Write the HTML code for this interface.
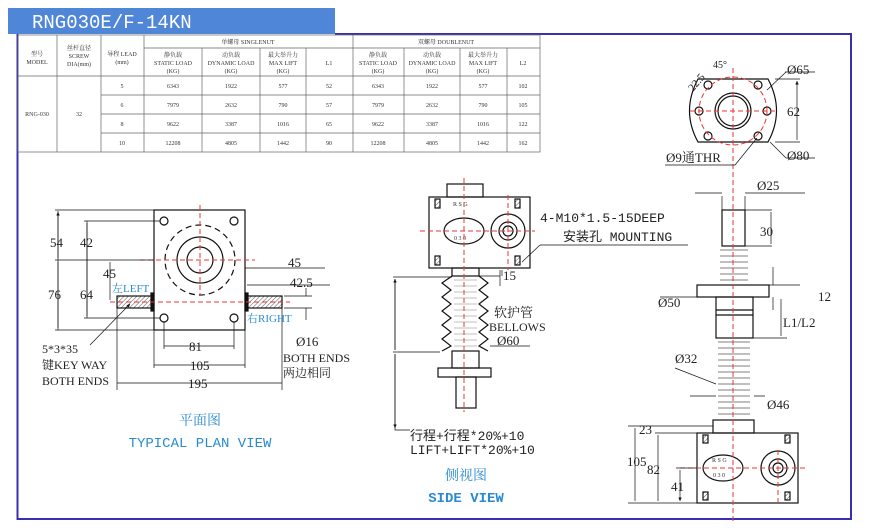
<!DOCTYPE html>
<html><head><meta charset="utf-8"><style>
body{margin:0;background:#fff}
svg{display:block;font-family:"Liberation Serif","Noto Serif CJK SC",serif}
.t{font-size:6px;fill:#333;text-anchor:middle}
.d{font-size:13px;fill:#222}
.b{fill:#2a8ad0}
</style></head><body>
<svg width="870" height="528" viewBox="0 0 870 528" xmlns="http://www.w3.org/2000/svg">
<defs>
<pattern id="h" width="3" height="3" patternUnits="userSpaceOnUse" patternTransform="rotate(45)"><line x1="0" y1="0" x2="0" y2="3" stroke="#555" stroke-width="1"/></pattern>
<marker id="a" viewBox="0 0 6 6" refX="6" refY="3" markerWidth="5" markerHeight="5" orient="auto-start-reverse"><path d="M0,0L6,3L0,6z" fill="#111"/></marker>
</defs>
<!-- frame -->
<rect x="8" y="8" width="327" height="26" fill="#4f86d8"/>
<text x="32" y="28" fill="#fff" font-size="19" style="font-family:'Liberation Mono',monospace">RNG030E/F-14KN</text>
<path d="M17.5 34 V519 H851 V34 H335" fill="none" stroke="#3a2fb0" stroke-width="2"/>
<!-- table -->
<g stroke="#666" stroke-width="0.7" fill="none">
<rect x="18" y="35" width="522" height="117"/>
<path d="M57 35V152M101 35V152M144 35V152M202 48V152M260 48V152M306 48V152M353 35V152M404 48V152M460 48V152M507 48V152M144 48H540M18 76H540M101 95H540M101 114H540M101 133H540"/>
</g>
<g class="t">
<text x="37" y="56">型号</text><text x="37" y="64">MODEL</text>
<text x="79" y="50">丝杆直径</text><text x="79" y="58">SCREW</text><text x="79" y="66">DIA(mm)</text>
<text x="122" y="56">导程 LEAD</text><text x="122" y="64">(mm)</text>
<text x="248" y="44">单螺母 SINGLENUT</text><text x="446" y="44">双螺母 DOUBLENUT</text>
<text x="173" y="57">静负载</text><text x="173" y="65">STATIC LOAD</text><text x="173" y="73">(KG)</text>
<text x="231" y="57">动负载</text><text x="231" y="65">DYNAMIC LOAD</text><text x="231" y="73">(KG)</text>
<text x="283" y="57">最大举升力</text><text x="283" y="65">MAX LIFT</text><text x="283" y="73">(KG)</text>
<text x="329" y="65">L1</text>
<text x="378" y="57">静负载</text><text x="378" y="65">STATIC LOAD</text><text x="378" y="73">(KG)</text>
<text x="432" y="57">动负载</text><text x="432" y="65">DYNAMIC LOAD</text><text x="432" y="73">(KG)</text>
<text x="483" y="57">最大举升力</text><text x="483" y="65">MAX LIFT</text><text x="483" y="73">(KG)</text>
<text x="523" y="65">L2</text>
<text x="37" y="116">RNG-030</text><text x="79" y="116">32</text>
<g>
<text x="122" y="88">5</text><text x="173" y="88">6343</text><text x="231" y="88">1922</text><text x="283" y="88">577</text><text x="329" y="88">52</text><text x="378" y="88">6343</text><text x="432" y="88">1922</text><text x="483" y="88">577</text><text x="523" y="88">102</text>
<text x="122" y="107">6</text><text x="173" y="107">7979</text><text x="231" y="107">2632</text><text x="283" y="107">790</text><text x="329" y="107">57</text><text x="378" y="107">7979</text><text x="432" y="107">2632</text><text x="483" y="107">790</text><text x="523" y="107">105</text>
<text x="122" y="126">8</text><text x="173" y="126">9622</text><text x="231" y="126">3387</text><text x="283" y="126">1016</text><text x="329" y="126">65</text><text x="378" y="126">9622</text><text x="432" y="126">3387</text><text x="483" y="126">1016</text><text x="523" y="126">122</text>
<text x="122" y="145">10</text><text x="173" y="145">12208</text><text x="231" y="145">4805</text><text x="283" y="145">1442</text><text x="329" y="145">90</text><text x="378" y="145">12208</text><text x="432" y="145">4805</text><text x="483" y="145">1442</text><text x="523" y="145">162</text>
</g></g>

<!-- PLAN VIEW -->
<g stroke="#111" fill="none" stroke-width="1.2">
<rect x="154" y="210" width="91" height="120"/>
<circle cx="164" cy="221" r="4"/><circle cx="234" cy="221" r="4"/><circle cx="164" cy="318" r="4"/><circle cx="234" cy="318" r="4"/>
<circle cx="200" cy="260" r="35" stroke-dasharray="6,4"/>
<circle cx="200" cy="260" r="23"/><circle cx="200" cy="260" r="13"/>
<rect x="117" y="296" width="35" height="12" fill="url(#h)"/>
<rect x="247" y="296" width="35" height="12" fill="url(#h)"/>
<rect x="151" y="293" width="3" height="18" fill="#111"/><rect x="245" y="293" width="3" height="18" fill="#111"/>
</g>
<g stroke="#e33" stroke-dasharray="5,3" stroke-width="1">
<path d="M200 205V295M140 260H255M110 302H290"/>
</g>
<g stroke="#111" stroke-width="0.7" fill="none">
<path d="M55 210H154M84 221H160M55 260H154M55 330H154M84 318H160M58 211V330M87 221V318M110 262V300M117 308V390M282 308V390M154 330V368M245 330V368M164 322V349M234 322V349M245 268H325M247 285H330M284 296H312M284 308H312"/>
<path d="M58 212V258M58 262V328M87 223V316M164 346H234M154 365H245M117 383H282M306 288V296M306 320V308M90 345L130 304" marker-end="url(#a)" marker-start="url(#a)"/>
</g>
<g class="d">
<text x="50" y="247">54</text><text x="80" y="247">42</text><text x="103" y="278">45</text>
<text x="48" y="299">76</text><text x="80" y="299">64</text>
<text x="288" y="267">45</text><text x="290" y="287">42.5</text>
<text x="296" y="346">Ø16</text><text x="283" y="362" font-size="12">BOTH ENDS</text><text x="283" y="377" font-size="12">两边相同</text>
<text x="189" y="351" fill="#222">81</text><text x="190" y="370">105</text><text x="188" y="388">195</text>
<text x="42" y="353" font-size="12">5*3*35</text><text x="42" y="369" font-size="12">键KEY WAY</text><text x="42" y="385" font-size="12">BOTH ENDS</text>
</g>
<text x="112" y="292" font-size="11" class="b">左LEFT</text>
<text x="247" y="322" font-size="11" class="b">右RIGHT</text>
<text x="200" y="425" font-size="14" class="b" text-anchor="middle">平面图</text>
<text x="200" y="447" font-size="14" class="b" text-anchor="middle" style="font-family:'Liberation Mono',monospace">TYPICAL PLAN VIEW</text>

<!-- SIDE VIEW -->
<g stroke="#111" fill="none" stroke-width="1.2">
<rect x="447" y="184" width="36" height="13"/>
<rect x="429" y="197" width="101" height="71"/>
<ellipse cx="464" cy="231" rx="20" ry="13"/>
<circle cx="508" cy="231" r="17"/><circle cx="508" cy="231" r="9"/><circle cx="508" cy="231" r="5"/>
<rect x="435" y="199" width="5" height="9" fill="url(#h)"/><rect x="515" y="199" width="5" height="9" fill="url(#h)"/>
<rect x="435" y="256" width="5" height="9" fill="url(#h)"/><rect x="515" y="256" width="5" height="9" fill="url(#h)"/>
<rect x="452" y="268" width="27" height="8"/>
<path d="M452 276L442 283L451 290L442 297L451 304L442 311L451 318L442 325L451 332L442 339L451 346L442 351M479 276L488 283L479 290L488 297L479 304L488 311L479 318L488 325L479 332L488 339L479 346L488 351"/>
<rect x="452" y="351" width="27" height="17"/>
<rect x="438" y="368" width="53" height="9"/>
<rect x="456" y="377" width="20" height="31"/>
</g>
<g stroke="#aaa" stroke-width="0.8"><path d="M454 280H477M454 286H477M454 292H477M454 298H477M454 304H477M454 310H477M454 316H477M454 322H477M454 328H477M454 334H477M454 340H477M454 346H477"/></g>
<text x="453" y="206" font-size="6" fill="#333">R S G</text><text x="454" y="240" font-size="6" fill="#333">0 3 0</text>
<g stroke="#e33" stroke-dasharray="5,3" stroke-width="1"><path d="M464 178V412M420 231H535M508 195V270"/></g>
<g stroke="#111" stroke-width="0.7" fill="none">
<path d="M393 277H452M393 352H440M395 279V350M395 354V430H410M500 270V286M502 270V276M540 245H688M522 262L540 245M490 346H530M479 276H500" />
<path d="M395 279V350M395 354V428" marker-start="url(#a)" marker-end="url(#a)"/>
</g>
<g class="d">
<text x="503" y="280">15</text>
<text x="540" y="222" style="font-family:'Liberation Mono',monospace" font-size="13">4-M10*1.5-15DEEP</text>
<text x="563" y="241" style="font-family:'Liberation Mono','Noto Sans CJK SC',monospace" font-size="13">安装孔 MOUNTING</text>
<text x="494" y="317">软护管</text><text x="489" y="331" font-size="12">BELLOWS</text><text x="497" y="345">Ø60</text>
<text x="410" y="440" style="font-family:'Liberation Mono','Noto Sans CJK SC',monospace" font-size="13">行程+行程*20%+10</text>
<text x="410" y="454" style="font-family:'Liberation Mono',monospace" font-size="13">LIFT+LIFT*20%+10</text>
</g>
<text x="466" y="480" font-size="14" class="b" text-anchor="middle">侧视图</text>
<text x="466" y="502" font-size="14" class="b" text-anchor="middle" font-weight="bold" style="font-family:'Liberation Mono',monospace">SIDE VIEW</text>

<!-- RIGHT VIEW -->
<g stroke="#111" fill="none" stroke-width="1.2">
<path d="M698 79H768Q785 111 768 142H698Q681 111 698 79Z"/>
<circle cx="733" cy="111" r="18"/><circle cx="733" cy="111" r="15"/>
<circle cx="708" cy="85" r="4"/><circle cx="758" cy="85" r="4"/><circle cx="699" cy="111" r="4"/><circle cx="767" cy="111" r="4"/><circle cx="708" cy="136" r="4"/><circle cx="758" cy="136" r="4"/>
<rect x="722" y="210" width="23" height="36"/>
<rect x="697" y="285" width="72" height="12"/>
<rect x="716" y="297" width="37" height="41"/>
<path d="M716 310H753M716 315H753"/>
<rect x="713" y="420" width="41" height="13"/>
<rect x="697" y="433" width="101" height="70"/>
<ellipse cx="723" cy="468" rx="20" ry="13"/>
<circle cx="778" cy="468" r="17"/><circle cx="778" cy="468" r="9"/><circle cx="778" cy="468" r="5"/>
<rect x="703" y="435" width="5" height="8" fill="url(#h)"/><rect x="785" y="435" width="5" height="8" fill="url(#h)"/>
<rect x="703" y="492" width="5" height="8" fill="url(#h)"/><rect x="785" y="492" width="5" height="8" fill="url(#h)"/>
</g>
<g stroke="#999" stroke-width="1.2"><path d="M720 250H748M720 256H748M720 262H748M720 268H748M720 274H748M720 280H748M718 342H750M718 348H750M718 354H750M718 360H750M718 366H750M718 372H750M718 378H750M718 384H750M718 390H750M718 396H750M718 402H750M718 408H750M718 414H750"/></g>
<text x="712" y="462" font-size="6" fill="#333">R S G</text><text x="713" y="477" font-size="6" fill="#333">0 3 0</text>
<g stroke="#e33" stroke-dasharray="5,3" stroke-width="1" fill="none">
<path d="M733 68V522M690 111H778M680 468H805M778 450V505"/>
<circle cx="733" cy="111" r="34"/>
</g>
<g stroke="#111" stroke-width="0.7" fill="none">
<path d="M775 79H800M775 142H800M786 72L767 90M786 158L770 142M786 158H815M785 72H815M665 165H735L757 138M695 193H722M745 193H805M722 196V210M745 196V210M745 210H772M745 246H772M769 285H800M753 338H787M773 267V285M773 297V310M660 297H716M753 297H768M690 396H716M754 396H765M675 368L716 384M628 426H713M655 433H697M676 468H697"/>
<path d="M797 81V140M771 212V244M781 299V336M635 428V501M658 435V501M680 470V501" marker-start="url(#a)" marker-end="url(#a)"/>
<path d="M628 503H697"/>
</g>
<g class="d">
<text x="787" y="74">Ø65</text><text x="787" y="116">62</text><text x="787" y="160">Ø80</text><text x="666" y="162">Ø9通THR</text>
<text x="693" y="92" font-size="11" transform="rotate(-50 693 92)">22.5</text><text x="713" y="68" font-size="10">45°</text>
<text x="757" y="190">Ø25</text><text x="760" y="236">30</text>
<text x="658" y="307">Ø50</text><text x="818" y="301">12</text><text x="783" y="327">L1/L2</text>
<text x="675" y="363">Ø32</text><text x="767" y="409">Ø46</text>
<text x="639" y="434">23</text><text x="627" y="466">105</text><text x="647" y="474">82</text><text x="671" y="491">41</text>
</g>
</svg>
</body></html>
